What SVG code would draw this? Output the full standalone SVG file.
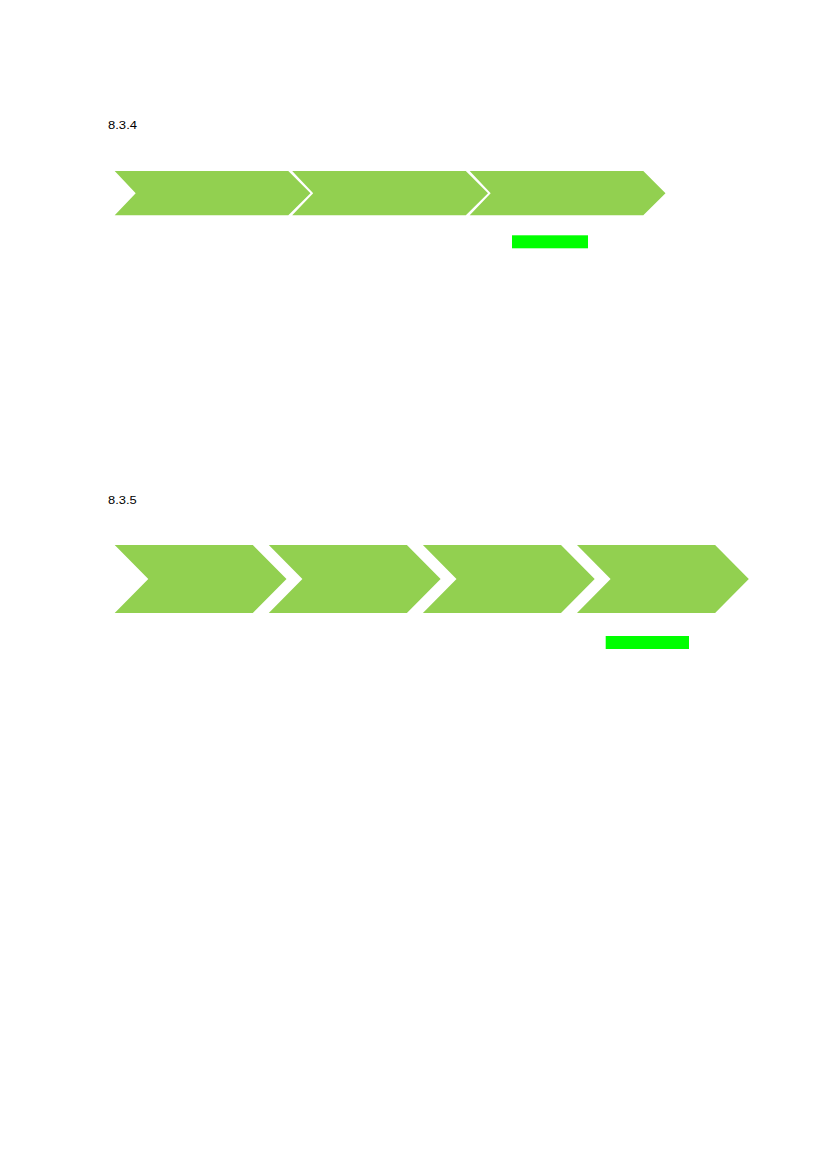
<svg xmlns="http://www.w3.org/2000/svg" width="827" height="1169" viewBox="0 0 827 1169">
  <style>
    .chev { fill: #92D050; }
    .mark { fill: #00FF00; }
    .label { font-family: "Liberation Sans", "DejaVu Sans", sans-serif; font-size: 11.5px; fill: #000000; }
  </style>
  <rect x="0" y="0" width="827" height="1169" fill="#FFFFFF"/>

  <g id="section-834">
    <text class="label" x="108" y="129" textLength="29" lengthAdjust="spacingAndGlyphs">8.3.4</text>
    <g id="chevron-834-1">
      <polygon class="chev" points="114.7,171 288.3,171 310.5,193.15 288.3,215.3 114.7,215.3 135.7,193.15"/>
    </g>
    <g id="chevron-834-2">
      <polygon class="chev" points="292.2,171 465.8,171 488,193.15 465.8,215.3 292.2,215.3 313.2,193.15"/>
    </g>
    <g id="chevron-834-3">
      <polygon class="chev" points="469.7,171 643.3,171 665.5,193.15 643.3,215.3 469.7,215.3 490.7,193.15"/>
    </g>
    <g id="marker-834">
      <rect class="mark" x="512" y="235.3" width="76" height="13"/>
    </g>
  </g>

  <g id="section-835">
    <text class="label" x="108" y="504" textLength="28.7" lengthAdjust="spacingAndGlyphs">8.3.5</text>
    <g id="chevron-835-1">
      <polygon class="chev" points="114.7,545 252.8,545 286.5,579 252.8,613 114.7,613 148.3,579"/>
    </g>
    <g id="chevron-835-2">
      <polygon class="chev" points="268.8,545 406.9,545 440.6,579 406.9,613 268.8,613 302.4,579"/>
    </g>
    <g id="chevron-835-3">
      <polygon class="chev" points="422.9,545 561,545 594.7,579 561,613 422.9,613 456.5,579"/>
    </g>
    <g id="chevron-835-4">
      <polygon class="chev" points="577,545 715.1,545 748.8,579 715.1,613 577,613 610.6,579"/>
    </g>
    <g id="marker-835">
      <rect class="mark" x="605.7" y="636" width="83.3" height="13"/>
    </g>
  </g>

  <g id="connectors"></g>
</svg>
